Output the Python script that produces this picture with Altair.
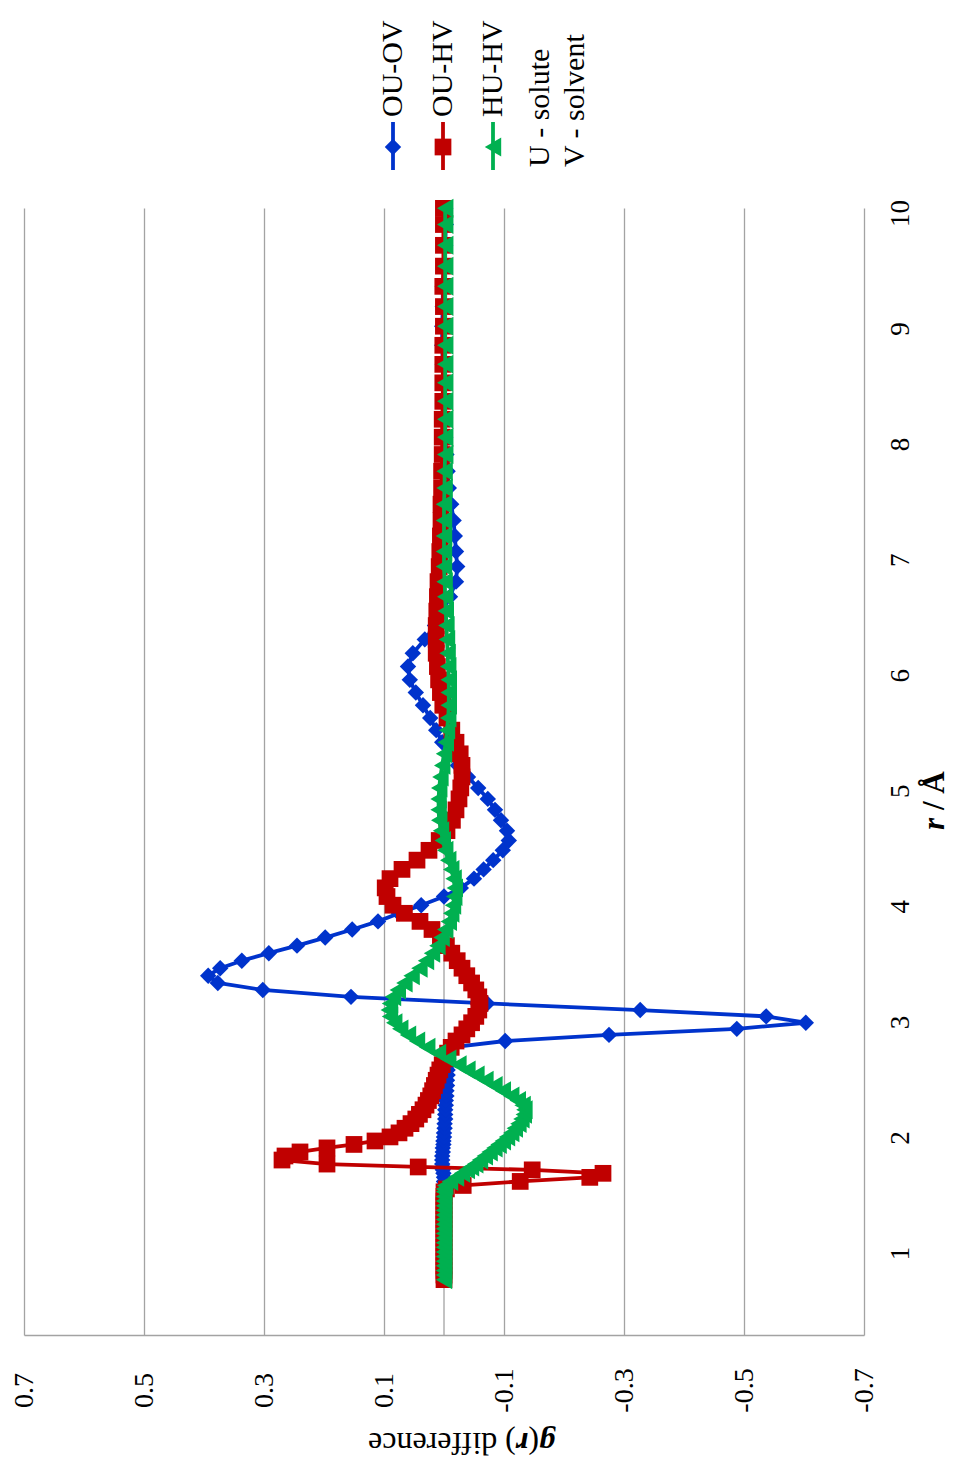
import altair as alt
import pandas as pd

# Radial grid (Å) shared by the three difference curves
r = [
    0.77, 0.81, 0.85, 0.89, 0.93, 0.97, 1.01, 1.05, 1.09, 1.13, 1.17, 1.21, 1.25, 1.29, 1.33, 1.37, 1.41, 1.45, 1.49, 1.53, 1.555,
    1.585, 1.62, 1.655, 1.69, 1.72, 1.745, 1.77, 1.805, 1.84, 1.875, 1.91, 1.94, 1.97, 2.005,
    2.04, 2.08, 2.12, 2.16, 2.20, 2.24, 2.28, 2.32, 2.36, 2.405, 2.45, 2.495, 2.54, 2.585, 2.63, 2.68, 2.73, 2.78,
    2.835, 2.888, 2.94, 2.993, 3.048, 3.103, 3.16, 3.217, 3.277, 3.337, 3.40, 3.465, 3.53, 3.595, 3.66, 3.73, 3.80, 3.87, 3.94, 4.01,
    4.085, 4.16, 4.24, 4.32, 4.40, 4.485, 4.57, 4.655, 4.745, 4.835, 4.93, 5.025, 5.12, 5.22, 5.32, 5.42, 5.525, 5.63, 5.74, 5.85,
    5.96, 6.075, 6.19, 6.31, 6.43, 6.555, 6.68, 6.81, 6.94, 7.07, 7.205, 7.34, 7.48, 7.62, 7.765, 7.91, 8.06, 8.215, 8.37, 8.53,
    8.69, 8.855, 9.02, 9.19, 9.365, 9.54, 9.72, 9.90, 10.04,
]

ou_ov = [
    0, 0, 0, 0, 0, 0, 0, 0, 0, 0, 0, 0, 0, 0, 0, 0, 0, 0, 0, 0, 0,
    0.0, 0.0, 0.0, 0.001, 0.002, 0.002, 0.003, 0.003, 0.003, 0.002, 0.002, 0.001, 0.001, 0.0,
    0.0, -0.001, -0.001, -0.002, -0.002, -0.002, -0.003, -0.003, -0.004, -0.004, -0.005, -0.005, -0.006, -0.006, -0.007, -0.007, -0.008, -0.012,
    -0.102, -0.275, -0.488, -0.603, -0.537, -0.327, -0.072, 0.155, 0.302, 0.377, 0.393, 0.373, 0.337, 0.292, 0.245, 0.198, 0.153, 0.11, 0.075, 0.038,
    0.0, -0.028, -0.05, -0.066, -0.082, -0.098, -0.108, -0.105, -0.095, -0.085, -0.073, -0.057, -0.04, -0.023, -0.008, 0.003, 0.013, 0.023, 0.035, 0.047,
    0.057, 0.06, 0.052, 0.032, 0.015, 0.002, -0.01, -0.02, -0.022, -0.02, -0.018, -0.016, -0.012, -0.008, -0.006, -0.004, -0.002, -0.001, 0.0, 0.0,
    0.002, 0.003, 0.003, 0.002, 0.002, 0.0, -0.002, -0.003, -0.002,
]

ou_hv = [
    0, 0, 0, 0, 0, 0, 0, 0, 0, 0, 0, 0, 0, 0, 0, 0, 0, 0, 0, 0, -0.004,
    -0.032, -0.127, -0.243, -0.265, -0.147, 0.043, 0.195, 0.27, 0.265, 0.24, 0.195, 0.15, 0.115, 0.09,
    0.075, 0.065, 0.055, 0.047, 0.041, 0.035, 0.03, 0.026, 0.022, 0.019, 0.016, 0.013, 0.01, 0.007, 0.003, -0.001, -0.006, -0.012,
    -0.02, -0.03, -0.038, -0.046, -0.053, -0.058, -0.06, -0.058, -0.053, -0.046, -0.038, -0.03, -0.022, -0.013, -0.004, 0.006, 0.02, 0.04, 0.066, 0.085,
    0.095, 0.098, 0.09, 0.07, 0.045, 0.025, 0.008, -0.005, -0.014, -0.02, -0.025, -0.028, -0.03, -0.03, -0.027, -0.02, -0.013, -0.005, 0.002, 0.006,
    0.009, 0.011, 0.013, 0.013, 0.013, 0.012, 0.011, 0.01, 0.008, 0.007, 0.006, 0.005, 0.005, 0.004, 0.004, 0.003, 0.003, 0.003, 0.002, 0.002,
    0.002, 0.002, 0.001, 0.001, 0.002, 0.001, 0.001, 0.001, 0.001,
]

hu_hv = [
    0, 0, 0, 0, 0, 0, 0, 0, 0, 0, 0, 0, 0, 0, 0, 0, 0, 0, 0, 0, 0,
    -0.002, -0.01, -0.02, -0.03, -0.038, -0.045, -0.052, -0.06, -0.068, -0.076, -0.084, -0.091, -0.098, -0.105,
    -0.112, -0.118, -0.124, -0.129, -0.133, -0.134, -0.131, -0.123, -0.112, -0.098, -0.084, -0.069, -0.054, -0.039, -0.024, -0.007, 0.01, 0.028,
    0.045, 0.06, 0.073, 0.083, 0.09, 0.092, 0.09, 0.085, 0.077, 0.066, 0.054, 0.041, 0.03, 0.02, 0.011, 0.004, -0.002, -0.008, -0.012, -0.015,
    -0.017, -0.018, -0.016, -0.012, -0.007, -0.002, 0.002, 0.005, 0.008, 0.009, 0.009, 0.008, 0.006, 0.003, 0.0, -0.003, -0.005, -0.007, -0.008, -0.008,
    -0.008, -0.007, -0.006, -0.005, -0.004, -0.003, -0.002, -0.001, 0.0, 0.0, 0.0, 0.0, 0.0, -0.001, -0.001, -0.002, -0.002, -0.002, -0.002, -0.002,
    -0.002, -0.002, -0.002, -0.002, -0.002, -0.002, -0.002, -0.002, -0.002,
]

series_names = ["OU-OV", "OU-HV", "HU-HV"]
series_values = [ou_ov, ou_hv, hu_hv]
series_colors = ["#0033CC", "#C00000", "#00B050"]
series_shapes = ["diamond", "square", "triangle-left"]
series_sizes = [270, 280, 360]

value_ticks = [0.7, 0.5, 0.3, 0.1, -0.1, -0.3, -0.5, -0.7]
r_ticks = [1, 2, 3, 4, 5, 6, 7, 8, 9, 10]
note_lines = ["U - solute", "V - solvent"]

FONT = "Liberation Serif"
W, H = 840, 1127
GRID = "#a3a3a3"

x_enc = alt.X(
    "value:Q",
    scale=alt.Scale(domain=[-0.7, 0.7], reverse=True, nice=False, zero=False),
    axis=alt.Axis(
        values=value_ticks, format=".1f",
        labelExpr="replace(datum.label, '\u2212', '-')",
        title="", grid=True, gridColor=GRID, gridWidth=1.3,
        ticks=False, domain=True, domainColor=GRID, domainWidth=1.3,
        labelAngle=270, labelAlign="center", labelBaseline="middle",
        labelPadding=55, labelFont=FONT, labelFontSize=28, labelColor="black",
        labelFlush=False, labelOverlap=False,
    ),
)
y_enc = alt.Y(
    "r:Q",
    scale=alt.Scale(domain=[0.291, 10.043], nice=False, zero=False),
    axis=alt.Axis(
        orient="right", values=r_ticks, title="", grid=False, ticks=False, domain=False,
        labelAngle=270, labelAlign="center", labelBaseline="middle",
        labelPadding=36, labelFont=FONT, labelFontSize=27, labelColor="black",
        labelFlush=False, labelOverlap=False,
    ),
)

layers = []

# category axis line at g(r) difference = 0
zero_df = pd.DataFrame({"value": [0.0]})
layers.append(alt.Chart(zero_df).mark_rule(color=GRID, strokeWidth=1.3).encode(x=x_enc))

for name, vals, color, shape, size in zip(series_names, series_values, series_colors, series_shapes, series_sizes):
    df = pd.DataFrame({"r": r, "value": vals, "series": name})
    base = alt.Chart(df).encode(x=x_enc, y=y_enc, order=alt.Order("r:Q"))
    layers.append(base.mark_line(color=color, strokeWidth=3.8, strokeJoin="round"))
    layers.append(base.mark_point(shape=shape, size=size, filled=True, color=color, opacity=1))


def text_piece(txt, x, y, angle, size, weight="normal", style="normal"):
    return alt.Chart(pd.DataFrame({"t": [txt]})).mark_text(
        font=FONT, fontSize=size, fontWeight=weight, fontStyle=style,
        angle=angle, align="left", baseline="middle", color="black",
    ).encode(x=alt.value(x), y=alt.value(y), text="t:N")


# axis titles with mixed styling
layers.append(text_piece("g", 531, 1235, 180, 32, "bold", "italic"))
layers.append(text_piece("(", 515, 1235, 180, 32))
layers.append(text_piece("r", 504.3, 1235, 180, 32, "bold", "italic"))
layers.append(text_piece(") difference", 491.8, 1235, 180, 32))

layers.append(text_piece("r", 911, 622, 270, 31, "bold", "italic"))
layers.append(text_piece("/ Å", 911, 602, 270, 31, "bold"))

# legend
legend_x = [369, 419, 469]
for name, color, shape, size, lx in zip(series_names, series_colors, series_shapes, series_sizes, legend_x):
    one = pd.DataFrame({"s": [name]})
    layers.append(alt.Chart(one).mark_rule(color=color, strokeWidth=3.8).encode(
        x=alt.value(lx), y=alt.value(-86), y2=alt.value(-38)))
    layers.append(alt.Chart(one).mark_point(shape=shape, size=size, filled=True, color=color, opacity=1).encode(
        x=alt.value(lx), y=alt.value(-61)))
    layers.append(text_piece(name, lx, -91, 270, 30))

for line, lx in zip(note_lines, [516, 551]):
    layers.append(text_piece(line, lx, -41, 270, 30))

chart = alt.layer(*layers).properties(
    width=W, height=H,
    padding={"left": 24, "top": 208, "right": 92, "bottom": 132},
    autosize=alt.AutoSizeParams(type="none"),
    background="white",
).configure_view(strokeWidth=0)

chart.save("out.html", embed_options={"renderer": "svg", "actions": False})
